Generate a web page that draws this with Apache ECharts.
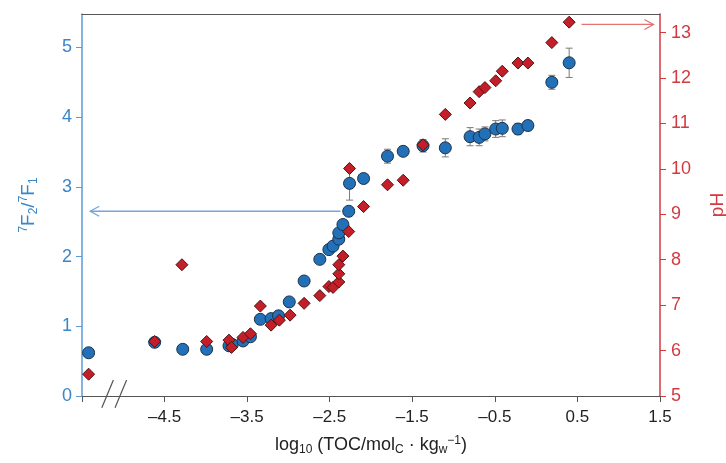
<!DOCTYPE html>
<html><head><meta charset="utf-8">
<script src="https://cdn.jsdelivr.net/npm/echarts@6/dist/echarts.min.js"></script>
<style>html,body{margin:0;padding:0;background:#fff}#c{width:726px;height:463px}</style>
</head><body><div id="c"></div>
<script>
// ---- data ----
const blueX = [-5.42, -4.62, -4.28, -3.99, -3.72, -3.68, -3.55, -3.46, -3.34, -3.21, -3.12, -2.99, -2.81, -2.62, -2.51, -2.46, -2.39, -2.39, -2.34, -2.27, -2.26, -2.09, -1.80, -1.61, -1.37, -1.10, -0.80, -0.69, -0.62, -0.49, -0.41, -0.22, -0.10, 0.19, 0.40];
const blueY = [0.62, 0.77, 0.67, 0.67, 0.72, 0.74, 0.79, 0.85, 1.10, 1.11, 1.15, 1.35, 1.65, 1.96, 2.10, 2.15, 2.25, 2.34, 2.46, 2.65, 3.05, 3.12, 3.44, 3.51, 3.59, 3.56, 3.72, 3.71, 3.76, 3.83, 3.84, 3.83, 3.88, 4.50, 4.78];
const blueErr = [0, 0, 0, 0, 0, 0, 0, 0, 0, 0, 0, 0, 0, 0, 0, 0, 0, 0, 0, 0, 0.24, 0.05, 0.10, 0.05, 0.09, 0.13, 0.13, 0.12, 0.10, 0.12, 0.12, 0.08, 0.07, 0.10, 0.21];
const redX = [-5.42, -4.62, -4.29, -3.99, -3.72, -3.69, -3.55, -3.46, -3.34, -3.21, -3.11, -2.98, -2.81, -2.62, -2.51, -2.46, -2.39, -2.39, -2.39, -2.34, -2.27, -2.26, -2.09, -1.80, -1.61, -1.37, -1.10, -0.80, -0.69, -0.62, -0.49, -0.41, -0.22, -0.10, 0.19, 0.40];
const redPH = [5.48, 6.20, 7.89, 6.20, 6.23, 6.07, 6.29, 6.37, 6.98, 6.56, 6.67, 6.78, 7.04, 7.21, 7.41, 7.39, 7.51, 7.69, 7.89, 8.08, 8.62, 10.01, 9.17, 9.65, 9.75, 10.53, 11.20, 11.45, 11.70, 11.79, 11.94, 12.15, 12.33, 12.33, 12.78, 13.23];
const xTicks = [-5.5, -4.5, -3.5, -2.5, -1.5, -0.5, 0.5, 1.5];
const xTickLabels = [-4.5, -3.5, -2.5, -1.5, -0.5, 0.5, 1.5];
const leftTicks = [0, 1, 2, 3, 4, 5];
const rightTicks = [5, 6, 7, 8, 9, 10, 11, 12, 13];
const blueArrow = [-2.37, 2.65, -5.40];   // from x, at y, to x (left axis)
const redArrow = [0.55, 13.18, 1.42];     // from x, at pH, to x (right axis)

const BLUE_AX = '#5d9bd6', BLUE_TXT = '#3a86c8', RED_AX = '#d23a40', GRAY = '#555';
const FONT = 'Liberation Sans';

const chart = echarts.init(document.getElementById('c'), null, {renderer: 'canvas'});

function fmtX(v) { return (v < 0 ? '\u2013' : '') + Math.abs(v).toFixed(1); }

const option = {
  animation: false,
  grid: {left: 82, right: 66, top: 14, bottom: 67, outerBoundsMode: 'none', containLabel: false},
  xAxis: [{
    type: 'value', min: -5.5, max: 1.5, interval: 1, position: 'bottom',
    axisLine: {onZero: false, lineStyle: {color: GRAY, width: 1.2}},
    axisTick: {show: true, length: 6, lineStyle: {color: GRAY}, customValues: xTicks},
    axisLabel: {customValues: xTickLabels, formatter: fmtX, color: '#222', fontSize: 17, fontFamily: FONT, margin: 13},
    splitLine: {show: false},
    name: '{n|log}{s|10}{n| (TOC/mol}{s|C}{n| \u00b7 kg}{s|w}{p|\u22121}{n|)}',
    nameLocation: 'middle', nameGap: 38,
    nameTextStyle: {color: '#222', fontFamily: FONT, rich: {
      n: {fontSize: 18, fontFamily: FONT, color: '#222'},
      s: {fontSize: 12, fontFamily: FONT, color: '#222', padding: [10, 0, 0, 0]},
      p: {fontSize: 12, fontFamily: FONT, color: '#222', padding: [0, 0, 9, 0]}
    }}
  }, {
    type: 'value', min: -5.5, max: 1.5, position: 'top',
    axisLine: {onZero: false, lineStyle: {color: GRAY, width: 1.2}},
    axisTick: {show: false}, axisLabel: {show: false}, splitLine: {show: false}
  }],
  yAxis: [{
    type: 'value', min: 0, max: 5.48, position: 'left',
    axisLine: {show: true, onZero: false, lineStyle: {color: BLUE_AX, width: 1.5}},
    axisTick: {show: true, length: 6, lineStyle: {color: BLUE_AX}, customValues: leftTicks},
    axisLabel: {customValues: leftTicks, color: BLUE_TXT, fontSize: 18, fontFamily: FONT, margin: 10},
    splitLine: {show: false},
    name: '{p|7}{n|F}{s|2}{n|/}{p|7}{n|F}{s|1}',
    nameLocation: 'middle', nameGap: 42,
    nameTextStyle: {color: BLUE_TXT, rich: {
      n: {fontSize: 19, fontFamily: FONT, color: BLUE_TXT},
      s: {fontSize: 12, fontFamily: FONT, color: BLUE_TXT, padding: [10, 0, 0, 0]},
      p: {fontSize: 12, fontFamily: FONT, color: BLUE_TXT, padding: [0, 0, 10, 0]}
    }}
  }, {
    type: 'value', min: 5, max: 13.41, position: 'right',
    axisLine: {show: true, onZero: false, lineStyle: {color: RED_AX, width: 1.5}},
    axisTick: {show: true, length: 6, lineStyle: {color: RED_AX}, customValues: rightTicks},
    axisLabel: {customValues: rightTicks, color: RED_AX, fontSize: 18, fontFamily: FONT, margin: 11},
    splitLine: {show: false},
    name: 'pH', nameLocation: 'middle', nameGap: 48,
    nameTextStyle: {color: RED_AX, fontSize: 19, fontFamily: FONT}
  }],
  series: [
    {
      type: 'custom', name: 'err', xAxisIndex: 0, yAxisIndex: 0, z: 2,
      data: blueX.map((x, i) => [x, blueY[i] - blueErr[i], blueY[i] + blueErr[i]]).filter(d => d[2] > d[1]),
      encode: {x: 0, y: [1, 2]},
      renderItem: function (params, api) {
        const x = api.value(0);
        const lo = api.coord([x, api.value(1)]), hi = api.coord([x, api.value(2)]);
        const w = 3.5, st = {stroke: '#7a7a7a', lineWidth: 1};
        return {type: 'group', children: [
          {type: 'line', shape: {x1: lo[0], y1: lo[1], x2: hi[0], y2: hi[1]}, style: st},
          {type: 'line', shape: {x1: lo[0] - w, y1: lo[1], x2: lo[0] + w, y2: lo[1]}, style: st},
          {type: 'line', shape: {x1: hi[0] - w, y1: hi[1], x2: hi[0] + w, y2: hi[1]}, style: st}
        ]};
      }
    },
    {
      type: 'scatter', name: 'F2/F1', xAxisIndex: 0, yAxisIndex: 0, z: 3,
      data: blueX.map((x, i) => [x, blueY[i]]),
      symbol: 'circle', symbolSize: 12,
      itemStyle: {color: '#2271b8', borderColor: '#1c3148', borderWidth: 1, opacity: 1}
    },
    {
      type: 'scatter', name: 'pH', xAxisIndex: 0, yAxisIndex: 1, z: 4,
      data: redX.map((x, i) => [x, redPH[i]]),
      symbol: 'diamond', symbolSize: [12, 12],
      itemStyle: {color: '#c41f28', borderColor: '#4a1616', borderWidth: 1, opacity: 1}
    },
    {
      type: 'custom', name: 'arrowBlue', xAxisIndex: 0, yAxisIndex: 0, z: 1,
      data: [blueArrow], encode: {x: [0, 2], y: 1},
      renderItem: function (params, api) {
        const a = api.coord([api.value(0), api.value(1)]), b = api.coord([api.value(2), api.value(1)]);
        const st = {stroke: '#78a4d6', lineWidth: 1.3, fill: null};
        return {type: 'group', children: [
          {type: 'line', shape: {x1: a[0], y1: a[1], x2: b[0], y2: b[1]}, style: st},
          {type: 'polyline', shape: {points: [[b[0] + 9, b[1] - 5], [b[0], b[1]], [b[0] + 9, b[1] + 5]]}, style: st}
        ]};
      }
    },
    {
      type: 'custom', name: 'arrowRed', xAxisIndex: 0, yAxisIndex: 1, z: 1,
      data: [redArrow], encode: {x: [0, 2], y: 1},
      renderItem: function (params, api) {
        const a = api.coord([api.value(0), api.value(1)]), b = api.coord([api.value(2), api.value(1)]);
        const st = {stroke: '#e07474', lineWidth: 1.3, fill: null};
        return {type: 'group', children: [
          {type: 'line', shape: {x1: a[0], y1: a[1], x2: b[0], y2: b[1]}, style: st},
          {type: 'polyline', shape: {points: [[b[0] - 9, b[1] - 5], [b[0], b[1]], [b[0] - 9, b[1] + 5]]}, style: st}
        ]};
      }
    },
    {
      type: 'custom', name: 'break', xAxisIndex: 0, yAxisIndex: 0, z: 5, clip: false,
      data: [[-5.11, 0]], encode: {x: 0, y: 1},
      renderItem: function (params, api) {
        const st = {stroke: '#555', lineWidth: 1.2};
        const p1 = api.coord([-5.26, -0.17]), p2 = api.coord([-5.12, 0.23]);
        const p3 = api.coord([-5.10, -0.17]), p4 = api.coord([-4.96, 0.23]);
        return {type: 'group', children: [
          {type: 'line', shape: {x1: p1[0], y1: p1[1], x2: p2[0], y2: p2[1]}, style: st},
          {type: 'line', shape: {x1: p3[0], y1: p3[1], x2: p4[0], y2: p4[1]}, style: st}
        ]};
      }
    }
  ]
};
chart.setOption(option);
</script>
</body></html>
